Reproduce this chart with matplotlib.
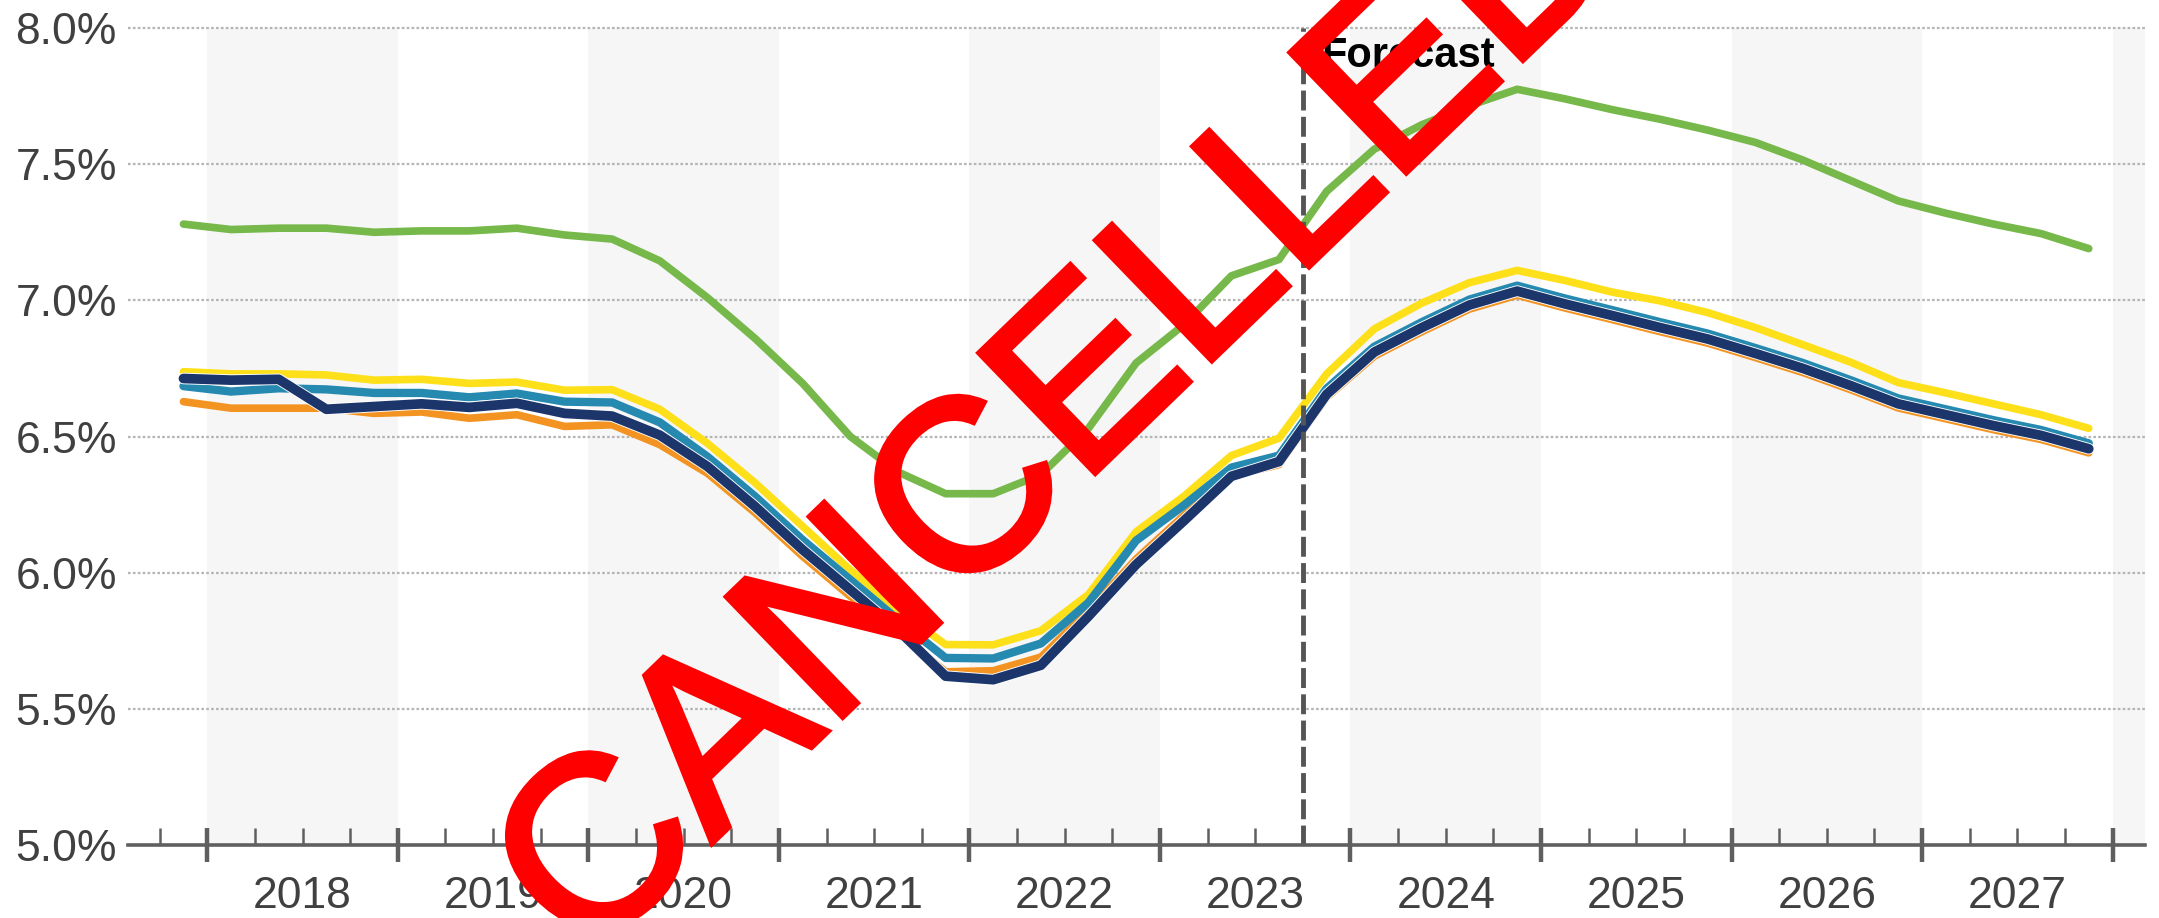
import numpy as np
import matplotlib
matplotlib.use("Agg")
import matplotlib.pyplot as plt
import matplotlib.patheffects as pe
from matplotlib.ticker import FixedLocator, FuncFormatter

plt.rcParams['font.family'] = ['Liberation Sans', 'DejaVu Sans']

# quarterly points, 2017 Q4 .. 2027 Q4 (plotted at mid-quarter)
quarters = np.arange(2017.875, 2028.0, 0.25)

green = [7.28, 7.26, 7.265, 7.265, 7.25, 7.255, 7.255, 7.265, 7.24, 7.225,
         7.145, 7.01, 6.86, 6.695, 6.50, 6.37, 6.29, 6.29, 6.36, 6.53,
         6.77, 6.91, 7.09, 7.15, 7.40, 7.555, 7.645, 7.715, 7.775, 7.74,
         7.70, 7.665, 7.625, 7.58, 7.515, 7.44, 7.365, 7.32, 7.28, 7.245, 7.19]
yellow = [6.738, 6.73, 6.73, 6.726, 6.707, 6.71, 6.695, 6.70, 6.67, 6.672,
          6.60, 6.475, 6.33, 6.17, 6.01, 5.864, 5.736, 5.735, 5.787, 5.92,
          6.15, 6.28, 6.43, 6.494, 6.73, 6.895, 6.99, 7.065, 7.11, 7.073,
          7.03, 6.998, 6.955, 6.90, 6.837, 6.773, 6.698, 6.66, 6.62, 6.58, 6.53]
teal = [6.685, 6.665, 6.677, 6.673, 6.66, 6.66, 6.644, 6.658, 6.628, 6.625,
        6.552, 6.426, 6.28, 6.12, 5.974, 5.827, 5.687, 5.685, 5.74, 5.89,
        6.118, 6.247, 6.386, 6.43, 6.676, 6.83, 6.92, 7.003, 7.054, 7.007,
        6.964, 6.92, 6.878, 6.825, 6.77, 6.707, 6.64, 6.60, 6.56, 6.524, 6.475]
navy = [6.713, 6.707, 6.71, 6.60, 6.61, 6.62, 6.607, 6.622, 6.585, 6.575,
        6.505, 6.39, 6.243, 6.084, 5.937, 5.79, 5.62, 5.607, 5.66, 5.84,
        6.03, 6.19, 6.354, 6.408, 6.655, 6.81, 6.90, 6.983, 7.034, 6.987,
        6.944, 6.90, 6.858, 6.805, 6.75, 6.687, 6.62, 6.58, 6.54, 6.504, 6.455]
orange = [6.628, 6.604, 6.604, 6.604, 6.585, 6.59, 6.567, 6.58, 6.537, 6.543,
          6.47, 6.365, 6.22, 6.06, 5.913, 5.78, 5.636, 5.64, 5.69, 5.86,
          6.05, 6.21, 6.354, 6.397, 6.644, 6.795, 6.885, 6.968, 7.019, 6.972,
          6.929, 6.885, 6.843, 6.790, 6.735, 6.672, 6.605, 6.565, 6.525, 6.489, 6.44]

years = list(range(2018, 2028))
yticks = [5.0, 5.5, 6.0, 6.5, 7.0, 7.5, 8.0]
forecast_start = 2023.75

TXT = '#404040'
AXC = '#5f5f5f'

fig = plt.figure(figsize=(21.59, 9.18), dpi=100)
ax = fig.add_axes([0.0593, 0.0795, 0.9342, 0.890])
ax.set_xlim(2017.584, 2028.17)
ax.set_ylim(5.0, 8.0)

# alternating year shading
for y in range(2018, 2029, 2):
    ax.axvspan(y, y + 1, color='#f6f6f6', lw=0, zorder=0)

# dotted gridlines
for v in yticks[1:]:
    ax.axhline(v, color='#b5b5b5', lw=1.6, ls=(0, (1.2, 1.0)), zorder=1, clip_on=False)

ax.plot(quarters, green, color='#76b84a', lw=5.5, zorder=3, solid_capstyle='round')
ax.plot(quarters, yellow, color='#fde01a', lw=5.5, zorder=3, solid_capstyle='round')
ax.plot(quarters, orange, color='#f39322', lw=5.5, zorder=4, solid_capstyle='round')
ax.plot(quarters, teal, color='#2589b0', lw=6, zorder=5, solid_capstyle='round')
ax.plot(quarters, navy, color='#1c366b', lw=7, zorder=6, solid_capstyle='round',
        path_effects=[pe.Stroke(linewidth=8.3, foreground='white'), pe.Normal()])

# forecast marker
ax.axvline(forecast_start, color='#555555', lw=3.5, dashes=(4.1, 1.3), zorder=7)
ax.annotate('Forecast', xy=(forecast_start, 8.0), xytext=(13, -6),
            textcoords='offset points', ha='left', va='top',
            fontsize=30, fontweight='bold', color='black', zorder=8)

# axes styling
for s in ['top', 'right', 'left']:
    ax.spines[s].set_visible(False)
ax.spines['bottom'].set_color(AXC)
ax.spines['bottom'].set_linewidth(2.6)
ax.spines['bottom'].set_zorder(9)

ax.yaxis.set_major_locator(FixedLocator(yticks))
ax.yaxis.set_major_formatter(FuncFormatter(lambda v, p: f'{v:.1f}%'))
ax.tick_params(axis='y', length=0, pad=8, labelsize=32, labelcolor=TXT)

ax.xaxis.set_major_locator(FixedLocator(list(range(2018, 2029))))
ax.xaxis.set_minor_locator(FixedLocator(list(np.arange(2017.75, 2028.2, 0.25))))
ax.tick_params(axis='x', which='major', direction='inout', length=25, width=3.2,
               color=AXC, labelbottom=False)
ax.tick_params(axis='x', which='minor', direction='in', length=12, width=1.8,
               color=AXC)

for y in years:
    ax.text(y + 0.5, -0.038, str(y), transform=ax.get_xaxis_transform(),
            ha='center', va='top', fontsize=32, color=TXT)

# stamp
fig.text(0.494, 0.549, 'CANCELLED', rotation=44, rotation_mode='anchor',
         ha='center', va='center', fontsize=175, color='#ff0000', zorder=20,
         path_effects=[pe.Stroke(linewidth=4, foreground='#ff0000',
                                 joinstyle='miter', capstyle='projecting'),
                       pe.Normal()])

fig.savefig('out.png', dpi=100)
